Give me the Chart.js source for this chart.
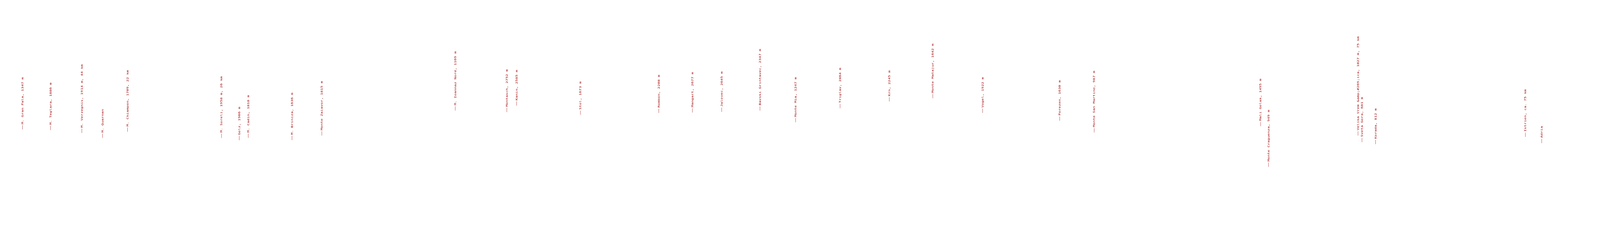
<!DOCTYPE html>
<html>
<head>
<meta charset="utf-8">
<script src="https://cdn.jsdelivr.net/npm/chart.js@4/dist/chart.umd.min.js"></script>
<style>
  html, body { margin: 0; padding: 0; background: #ffffff; overflow: hidden; }
  #wrap { width: 100vw; height: 100vh; position: relative; }
</style>
</head>
<body>
<div id="wrap"><canvas id="c"></canvas></div>
<script>
// Peak labels along the panorama
const labels = [
  "M. Gran Pala, 1347 m",
  "M. Teglara, 1886 m",
  "M. Verzegnis, 1914 m, 44 km",
  "M. Quarnan",
  "M. Chiampon, 1709, 22 km",
  "M. Soreli, 1958 m, 26 km",
  "Golz, 1906 m",
  "M. Cadin, 1818 m",
  "M. Briniza, 1636 m",
  "Monte Zaiavor, 1815 m",
  "M. Ioannaz Nord, 1169 m",
  "Montasch, 2752 m",
  "Kanin, 2585 m",
  "Stol, 1673 m",
  "Rombon, 2208 m",
  "Mangart, 2677 m",
  "Jalovec, 2645 m",
  "Bavski Grintavec, 2347 m",
  "Monte Mia, 1247 m",
  "Triglav, 2864 m",
  "Krn, 2245 m",
  "Monte Matajur, 1642 m",
  "Vogel, 1922 m",
  "Porezen, 1630 m",
  "Monte San Martino, 987 m",
  "Mali Golak, 1495 m",
  "Monte Craguenza, 949 m",
  "Velika Vrem &amp;#269;ica, 1027 m, 75 km",
  "Sveta Gora, 681 m",
  "Korada, 812 m",
  "Istrien, ca. 75 km",
  "Adria"
];
// horizontal position along the panorama
const azimuth = [
  87.5, 197.4, 319.5, 400.2, 498.0, 864.7, 934.0, 969.0, 1139.7, 1256.4,
  1776.9, 1978.8, 2017.0, 2266.0, 2572.0, 2702.6, 2817.6, 2967.0, 3106.0, 3279.7,
  3471.8, 3641.4, 3836.0, 4136.8, 4271.4, 4921.0, 4951.7, 5301.6, 5317.0, 5369.9,
  5954.8, 6018.5
];
// vertical level of each marker in the panorama (from top)
const level = [
  331.7, 333.3, 340.7, 353.3, 337.5, 353.3, 359.3, 353.3, 359.0, 347.3,
  283.3, 287.3, 270.7, 294.3, 289.3, 288.3, 286.7, 283.3, 313.3, 277.3,
  260.0, 251.7, 289.3, 309.3, 339.3, 323.3, 427.3, 347.3, 364.3, 369.3,
  350.7, 366.7
];

const X_MAX = 6246;
const Y_MAX = 620;

const points = azimuth.map((x, i) => ({ x: x, y: level[i], label: labels[i] }));

const labelColor = '#a00000';

const peakLabels = {
  id: 'peakLabels',
  afterDatasetsDraw(chart) {
    const ctx = chart.ctx;
    const meta = chart.getDatasetMeta(0);
    const area = chart.chartArea;
    const kx = (area.right - area.left) / X_MAX;
    const ky = (area.bottom - area.top) / Y_MAX;
    ctx.save();
    ctx.fillStyle = labelColor;
    ctx.font = '10px "DejaVu Sans Mono", "Liberation Mono", monospace';
    ctx.textBaseline = 'alphabetic';
    ctx.textAlign = 'left';
    meta.data.forEach((el, i) => {
      ctx.save();
      ctx.translate(el.x, el.y);
      ctx.scale(kx, ky);
      ctx.rotate(-Math.PI / 2);
      // short dash leading into the label
      ctx.fillRect(0, -0.5, 11, 1);
      ctx.fillText(points[i].label, 13.5, 3.5);
      ctx.restore();
    });
    ctx.restore();
  }
};

new Chart(document.getElementById('c'), {
  type: 'scatter',
  data: {
    datasets: [{
      data: points,
      pointRadius: 0,
      pointHoverRadius: 0,
      showLine: false
    }]
  },
  options: {
    responsive: true,
    maintainAspectRatio: false,
    animation: false,
    layout: { padding: 0 },
    plugins: { legend: { display: false }, tooltip: { enabled: false } },
    events: [],
    scales: {
      x: { type: 'linear', min: 0, max: X_MAX, display: false },
      y: { type: 'linear', min: 0, max: Y_MAX, reverse: true, display: false }
    }
  },
  plugins: [peakLabels]
});
</script>
</body>
</html>
